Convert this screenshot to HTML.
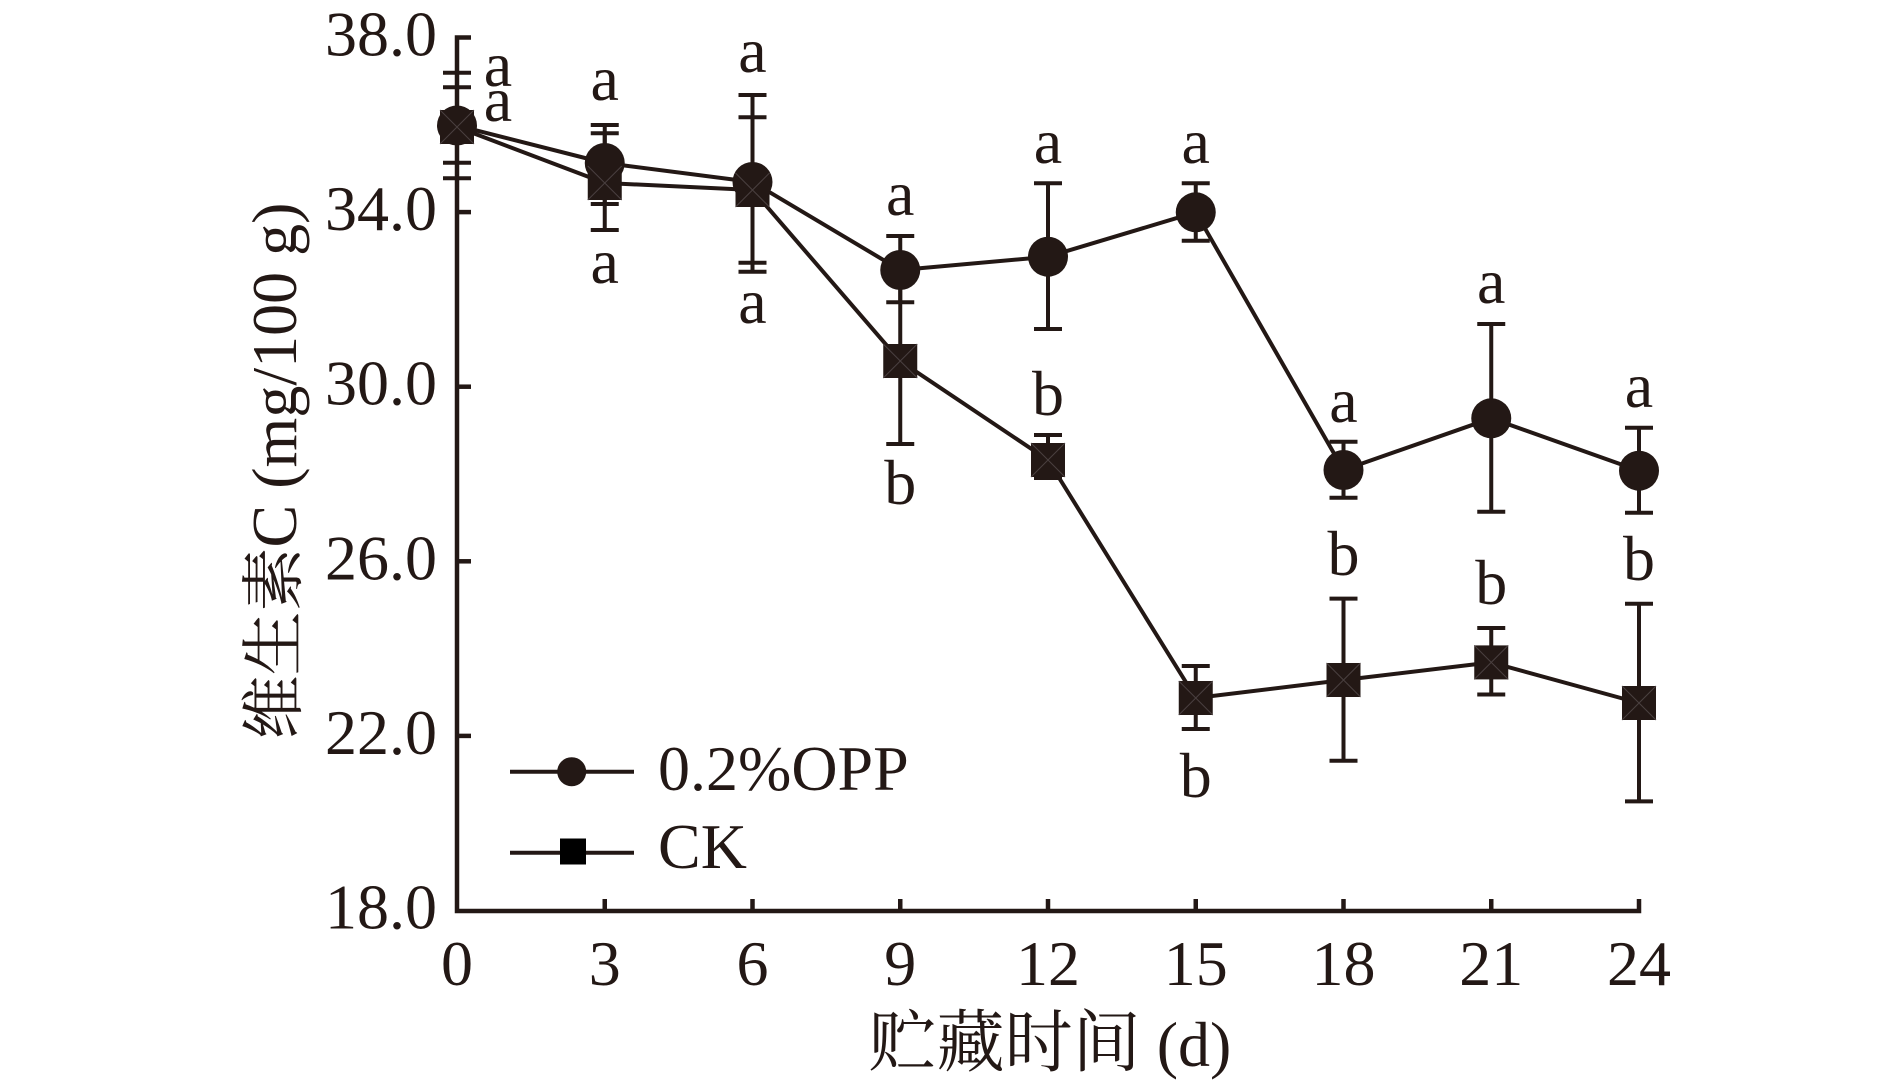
<!DOCTYPE html>
<html>
<head>
<meta charset="utf-8">
<style>
  html,body{margin:0;padding:0;background:#fff;}
  svg{display:block;}
  text{font-family:"Liberation Serif","Noto Serif CJK SC",serif;fill:#231815;}
</style>
</head>
<body>
<svg width="1890" height="1088" viewBox="0 0 1890 1088" xmlns="http://www.w3.org/2000/svg">
  <rect width="1890" height="1088" fill="#fff"/>

  <!-- Axes -->
  <path d="M471,37.5 H457 V911 H1639 V899" fill="none" stroke="#231815" stroke-width="4.5" stroke-linejoin="miter"/>
  <g stroke="#231815" stroke-width="4.5">
    <line x1="457" y1="212.1" x2="471" y2="212.1"/>
    <line x1="457" y1="386.7" x2="471" y2="386.7"/>
    <line x1="457" y1="561.3" x2="471" y2="561.3"/>
    <line x1="457" y1="735.9" x2="471" y2="735.9"/>
    <line x1="604.75" y1="911" x2="604.75" y2="899"/>
    <line x1="752.5" y1="911" x2="752.5" y2="899"/>
    <line x1="900.25" y1="911" x2="900.25" y2="899"/>
    <line x1="1048" y1="911" x2="1048" y2="899"/>
    <line x1="1195.75" y1="911" x2="1195.75" y2="899"/>
    <line x1="1343.5" y1="911" x2="1343.5" y2="899"/>
    <line x1="1491.25" y1="911" x2="1491.25" y2="899"/>
  </g>

  <!-- Y tick labels -->
  <g font-size="64" text-anchor="end">
    <text x="437" y="55.5">38.0</text>
    <text x="437" y="230.1">34.0</text>
    <text x="437" y="404.7">30.0</text>
    <text x="437" y="579.3">26.0</text>
    <text x="437" y="753.9">22.0</text>
    <text x="437" y="928.5">18.0</text>
  </g>

  <!-- X tick labels -->
  <g font-size="64" text-anchor="middle">
    <text x="457" y="985">0</text>
    <text x="604.75" y="985">3</text>
    <text x="752.5" y="985">6</text>
    <text x="900.25" y="985">9</text>
    <text x="1048" y="985">12</text>
    <text x="1195.75" y="985">15</text>
    <text x="1343.5" y="985">18</text>
    <text x="1491.25" y="985">21</text>
    <text x="1639" y="985">24</text>
  </g>

  <!-- Axis titles -->
  <text x="1050" y="1066" font-size="64" text-anchor="middle"><tspan font-size="68">贮藏时间</tspan> (d)</text>
  <text transform="translate(296,471) rotate(-90)" font-size="64" text-anchor="middle">维生素C (mg/100 g)</text>

  <!-- Series lines -->
  <polyline fill="none" stroke="#231815" stroke-width="4" stroke-linejoin="round"
    points="457,125.5 604.75,163 752.5,182 900.25,270 1048,256.7 1195.75,212.3 1343.5,470 1491.25,418.3 1639,470.7"/>
  <polyline fill="none" stroke="#231815" stroke-width="4" stroke-linejoin="round"
    points="457,127 604.75,183 752.5,190 900.25,361 1048,460 1195.75,698 1343.5,680 1491.25,662.4 1639,703"/>

  <!-- Error bars -->
  <g stroke="#231815" stroke-width="4" fill="none">
    <path d="M457,72.7 V178.3 M443,72.7 H471 M443,87.3 H471 M443,162.7 H471 M443,178.3 H471"/>
    <path d="M604.75,125 V204 M590.75,125 H618.75 M590.75,204 H618.75"/>
    <path d="M752.5,95 V271.7 M738.5,95 H766.5 M738.5,271.7 H766.5"/>
    <path d="M900.25,236 V302.3 M886.25,236 H914.25 M886.25,302.3 H914.25"/>
    <path d="M1048,183.3 V329 M1034,183.3 H1062 M1034,329 H1062"/>
    <path d="M1195.75,183.3 V240.7 M1181.75,183.3 H1209.75 M1181.75,240.7 H1209.75"/>
    <path d="M1343.5,441.7 V497.7 M1329.5,441.7 H1357.5 M1329.5,497.7 H1357.5"/>
    <path d="M1491.25,324 V511.7 M1477.25,324 H1505.25 M1477.25,511.7 H1505.25"/>
    <path d="M1639,427.7 V512.7 M1625,427.7 H1653 M1625,512.7 H1653"/>
    <path d="M604.75,133.3 V230 M590.75,133.3 H618.75 M590.75,230 H618.75"/>
    <path d="M752.5,117.3 V262.7 M738.5,117.3 H766.5 M738.5,262.7 H766.5"/>
    <path d="M900.25,278 V444 M886.25,444 H914.25"/>
    <path d="M1048,435 V478 M1034,435 H1062 M1034,478 H1062"/>
    <path d="M1195.75,666 V729 M1181.75,666 H1209.75 M1181.75,729 H1209.75"/>
    <path d="M1343.5,598.6 V760.7 M1329.5,598.6 H1357.5 M1329.5,760.7 H1357.5"/>
    <path d="M1491.25,628 V694.5 M1477.25,628 H1505.25 M1477.25,694.5 H1505.25"/>
    <path d="M1639,603.8 V801.4 M1625,603.8 H1653 M1625,801.4 H1653"/>
  </g>

  <!-- OPP markers (circles) -->
  <g fill="#231815">
    <circle cx="457" cy="125.5" r="20"/>
    <circle cx="604.75" cy="163" r="20"/>
    <circle cx="752.5" cy="182" r="20"/>
    <circle cx="900.25" cy="270" r="20"/>
    <circle cx="1048" cy="256.7" r="20"/>
    <circle cx="1195.75" cy="212.3" r="20"/>
    <circle cx="1343.5" cy="470" r="20"/>
    <circle cx="1491.25" cy="418.3" r="20"/>
    <circle cx="1639" cy="470.7" r="20"/>
  </g>

  <!-- CK markers (squares) -->
  <g fill="#231815">
    <rect x="440" y="110" width="34" height="34"/>
    <rect x="587.75" y="166" width="34" height="34"/>
    <rect x="735.5" y="173" width="34" height="34"/>
    <rect x="883.25" y="344" width="34" height="34"/>
    <rect x="1031" y="443" width="34" height="34"/>
    <rect x="1178.75" y="681" width="34" height="34"/>
    <rect x="1326.5" y="663" width="34" height="34"/>
    <rect x="1474.25" y="645.4" width="34" height="34"/>
    <rect x="1622" y="686" width="34" height="34"/>
  </g>
  <g stroke="#4a4040" stroke-width="1" fill="none">
    <path d="M440,110 L474,144 M474,110 L440,144"/>
    <path d="M587.75,166 L621.75,200 M621.75,166 L587.75,200"/>
    <path d="M735.5,173 L769.5,207 M769.5,173 L735.5,207"/>
    <path d="M883.25,344 L917.25,378 M917.25,344 L883.25,378"/>
    <path d="M1031,443 L1065,477 M1065,443 L1031,477"/>
    <path d="M1178.75,681 L1212.75,715 M1212.75,681 L1178.75,715"/>
    <path d="M1326.5,663 L1360.5,697 M1360.5,663 L1326.5,697"/>
    <path d="M1474.25,645.4 L1508.25,679.4 M1508.25,645.4 L1474.25,679.4"/>
    <path d="M1622,686 L1656,720 M1656,686 L1622,720"/>
  </g>

  <!-- Significance letters -->
  <g font-size="64" text-anchor="middle">
    <text x="498" y="86">a</text>
    <text x="498" y="121">a</text>
    <text x="604.75" y="100">a</text>
    <text x="604.75" y="283">a</text>
    <text x="752.5" y="72">a</text>
    <text x="752.5" y="323">a</text>
    <text x="900.25" y="215">a</text>
    <text x="900.25" y="504">b</text>
    <text x="1048" y="163">a</text>
    <text x="1048" y="415">b</text>
    <text x="1195.75" y="163">a</text>
    <text x="1195.75" y="797">b</text>
    <text x="1343.5" y="422">a</text>
    <text x="1343.5" y="575">b</text>
    <text x="1491.25" y="303">a</text>
    <text x="1491.25" y="604">b</text>
    <text x="1639" y="407">a</text>
    <text x="1639" y="580">b</text>
  </g>

  <!-- Legend -->
  <g stroke="#231815" stroke-width="4">
    <line x1="510" y1="771.7" x2="634" y2="771.7"/>
    <line x1="510" y1="852.7" x2="634" y2="852.7"/>
  </g>
  <circle cx="571.7" cy="771.7" r="14.5" fill="#231815"/>
  <rect x="560" y="838.5" width="26" height="26" fill="#000"/>
  <g font-size="64">
    <text x="658" y="790">0.2%OPP</text>
    <text x="658" y="868">CK</text>
  </g>
</svg>
</body>
</html>
